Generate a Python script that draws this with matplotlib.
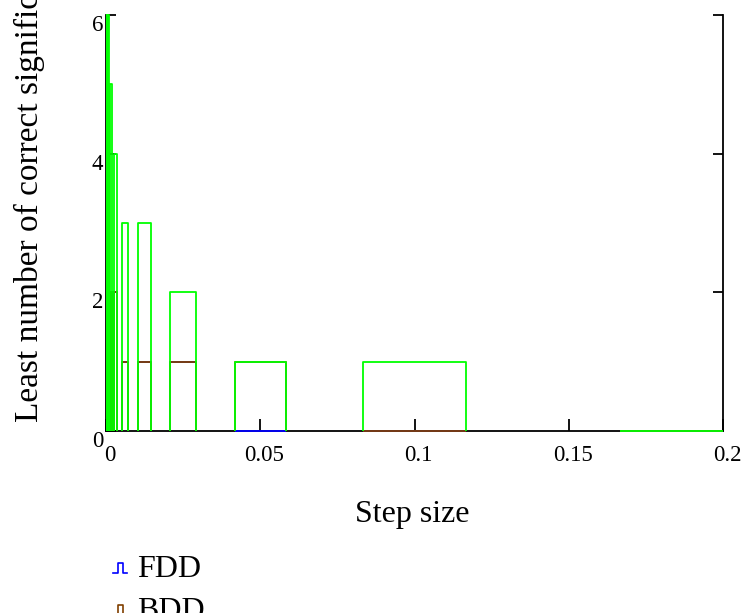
import matplotlib
matplotlib.use('Agg')
import matplotlib.pyplot as plt
import matplotlib.patches as mpatches
import matplotlib.transforms as mtransforms
from matplotlib.lines import Line2D
import numpy as np

plt.rcParams['font.family'] = ['Liberation Serif', 'DejaVu Serif']

# step sizes (halved each time) and least number of correct significant digits
steps = [0.2, 0.1, 0.05, 0.025, 0.0125, 0.00625, 0.003125,
         0.0015625, 0.00078125, 0.000390625, 0.0001953125, 0.00009765625]
fdd = [0, 0, 0, 1, 1, 1, 2, 2, 2, 3, 3, 3]
bdd = [0, 0, 1, 1, 1, 1, 2, 2, 2, 3, 3, 3]
cdd = [0, 1, 1, 2, 3, 3, 4, 5, 6, 6, 6, 6]

xticks = [0, 0.05, 0.1, 0.15, 0.2]
xticklabels = ['0', '0.05', '0.1', '0.15', '0.2']
yticks = [0, 2, 4, 6]

W, H = 752, 613


def bar_outline(h, v):
    # open bars (no bottom edge) the way Mathcad draws them
    xs, ys = [], []
    for x, y in zip(h, v):
        w = x / 6.0
        xs += [x - w, x - w, x + w, x + w, np.nan]
        ys += [0, y, y, 0, np.nan]
    return xs, ys


fig = plt.figure(figsize=(W / 100, H / 100), dpi=100)
ax = fig.add_axes([106 / W, (H - 431) / H, (723 - 106) / W, (431 - 15) / H])

clip = mpatches.Rectangle((0, -0.02), 1, 1.04, transform=ax.transAxes,
                          facecolor='none', edgecolor='none')
ax.add_patch(clip)

for vals, col in [(fdd, '#0000ff'), (bdd, '#804000'), (cdd, '#00ff00')]:
    xs, ys = bar_outline(steps, vals)
    ln, = ax.plot(xs, ys, color=col, lw=1.3, zorder=3, solid_capstyle='butt')
    ln.set_clip_path(clip)

ax.set_xlim(0, 0.2)
ax.set_ylim(0, 6)
ax.spines['top'].set_visible(False)
for s in ['left', 'right', 'bottom']:
    ax.spines[s].set_linewidth(1.3)

ax.set_xticks(xticks)
ax.set_xticklabels(xticklabels)
ax.set_yticks(yticks)
ax.tick_params(axis='x', direction='in', length=8.5, width=1.3, pad=10, labelsize=16.5)
ax.tick_params(axis='y', direction='in', length=7, width=1.3, pad=2, labelsize=16.5,
               right=True)
shift = mtransforms.ScaledTranslation(4 / 100, 0, fig.dpi_scale_trans)
for t in ax.get_xticklabels():
    t.set_transform(t.get_transform() + shift)
for t in ax.get_yticklabels():
    t.set_verticalalignment('top')

fig.text(29 / W, (H - 422) / H, 'Least number of correct significant digits',
         rotation=90, ha='center', va='bottom', fontsize=24)
fig.text(412.5 / W, (H - 522) / H, 'Step size', ha='center', va='baseline',
         fontsize=23)

# legend below the plot
for i, (name, col) in enumerate([('FDD', '#0000ff'), ('BDD', '#804000')]):
    base = 573 + 42 * i
    gx = [113, 118, 118, 123, 123, 127]
    gy = [base, base, base - 10, base - 10, base, base]
    fig.add_artist(Line2D([x / W for x in gx], [1 - y / H for y in gy],
                          color=col, lw=1.2, transform=fig.transFigure))
    fig.text(137 / W, (H - (577 + 42 * i)) / H, name, ha='left', va='baseline',
             fontsize=23)

fig.savefig('out.png', dpi=100)
